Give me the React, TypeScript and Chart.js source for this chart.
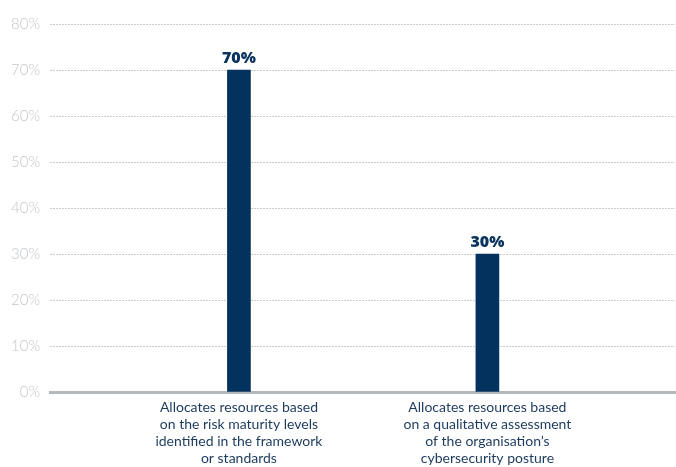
import React, { useEffect, useRef } from "react";
import { Chart, registerables } from "chart.js";

Chart.register(...registerables);

const categories: string[][] = [
  ["Allocates resources based", "on the risk maturity levels", "identified in the framework", "or standards"],
  ["Allocates resources based", "on a qualitative assessment", "of the organisation\u2019s", "cybersecurity posture"],
];
const values: number[] = [70, 30];
const yTicks: number[] = [0, 10, 20, 30, 40, 50, 60, 70, 80];

const NAVY = "#03325f";

const valueLabels = {
  id: "valueLabels",
  afterDatasetsDraw(chart: any) {
    const ctx = chart.ctx;
    const meta = chart.getDatasetMeta(0);
    ctx.save();
    ctx.font = "800 16px 'Open Sans'";
    ctx.fillStyle = "#0b3460";
    ctx.textAlign = "center";
    ctx.textBaseline = "bottom";
    meta.data.forEach((el: any, i: number) => {
      ctx.fillText(values[i] + "%", el.x, el.y - 4);
    });
    ctx.restore();
  },
};

export default function App() {
  const ref = useRef<HTMLCanvasElement | null>(null);
  useEffect(() => {
    if (!ref.current) return;
    const chart = new Chart(ref.current, {
      type: "bar",
      data: {
        datasets: [
          {
            data: values.map((v, i) => ({ x: i, y: v })),
            backgroundColor: NAVY,
            barThickness: 23,
          },
        ],
      },
      options: {
        animation: false,
        responsive: true,
        maintainAspectRatio: false,
        layout: { padding: { left: 1, right: 1, top: 24, bottom: 0 } },
        plugins: { legend: { display: false }, tooltip: { enabled: false } },
        scales: {
          x: {
            type: "linear",
            offset: false,
            min: -0.76,
            max: 1.755,
            afterBuildTicks: (scale: any) => {
              scale.ticks = categories.map((_, i) => ({ value: i }));
            },
            afterFit: (scale: any) => {
              scale.height = 75;
            },
            grid: { display: false, drawTicks: false },
            border: { display: true, color: "#b3b8bd", width: 3 },
            ticks: {
              autoSkip: false,
              maxRotation: 0,
              padding: 7,
              color: "#1c3a5e",
              font: { family: "Lato", size: 14, lineHeight: 17 / 14 },
              callback: (v: any) => categories[v as number] ?? "",
            },
          },
          y: {
            min: 0,
            max: 80,
            afterBuildTicks: (scale: any) => {
              scale.ticks = yTicks.map((v) => ({ value: v }));
            },
            grid: {
              drawTicks: false,
              color: (c: any) => (c.tick && c.tick.value === 0 ? "rgba(0,0,0,0)" : "#cdcdcd"),
              lineWidth: 1,
            },
            border: { display: false, dash: [2, 1] },
            ticks: {
              padding: 10,
              color: "#c3c7cb",
              font: { family: "Lato", size: 15, weight: "300" },
              callback: (v: any) => v + "%",
            },
          },
        },
      },
      plugins: [valueLabels],
    } as any);
    return () => chart.destroy();
  }, []);
  return (
    <div style={{ position: "fixed", left: 0, top: 0, width: 676, height: 467, background: "#fff" }}>
      <canvas ref={ref} />
    </div>
  );
}
